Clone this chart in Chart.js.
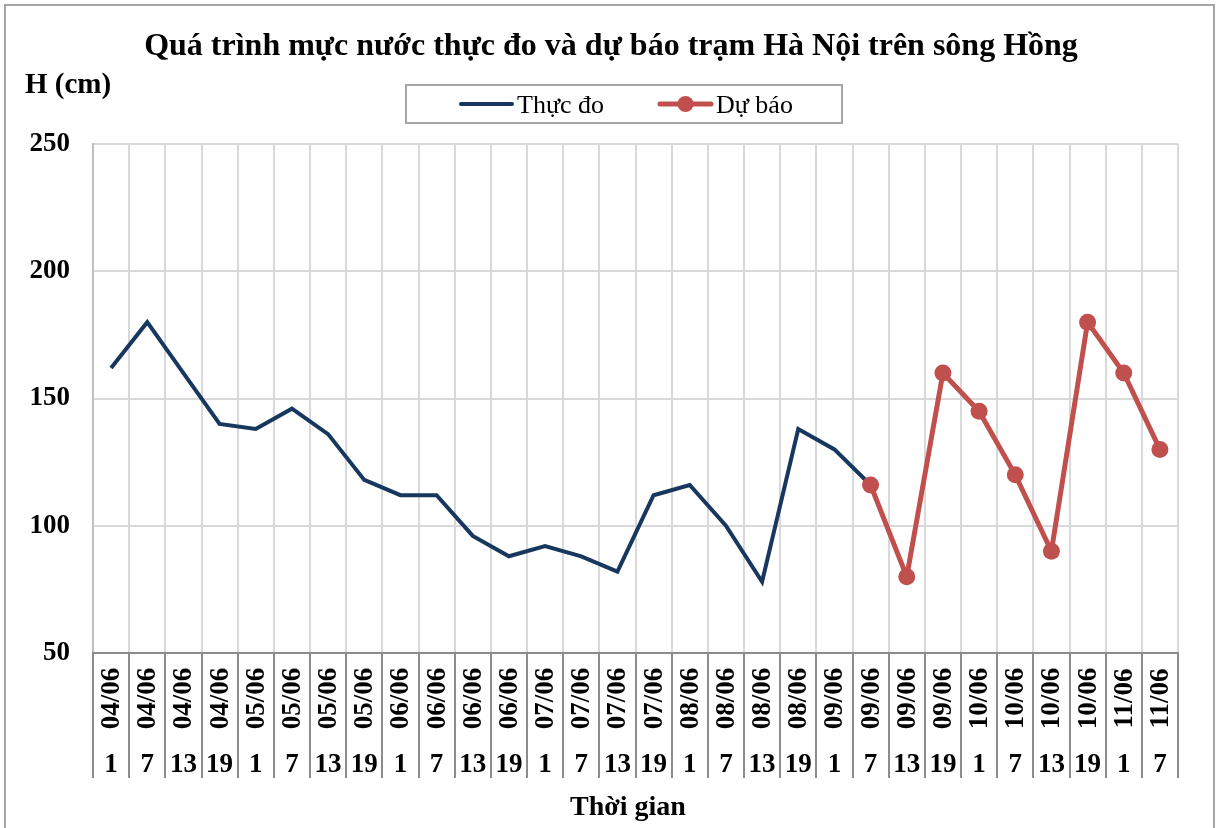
<!DOCTYPE html>
<html>
<head>
<meta charset="utf-8">
<script src="https://cdn.jsdelivr.net/npm/chart.js@4.4.1/dist/chart.umd.min.js"></script>
<style>
  html, body { margin: 0; padding: 0; background: #ffffff; }
  #wrap { width: 1220px; height: 828px; position: relative; }
</style>
</head>
<body>
<div id="wrap"><canvas id="c" width="1220" height="828"></canvas></div>
<script>
const dateLabels = ['04/06','04/06','04/06','04/06','05/06','05/06','05/06','05/06',
  '06/06','06/06','06/06','06/06','07/06','07/06','07/06','07/06',
  '08/06','08/06','08/06','08/06','09/06','09/06','09/06','09/06',
  '10/06','10/06','10/06','10/06','11/06','11/06'];
const hourLabels = ['1','7','13','19','1','7','13','19','1','7','13','19','1','7','13','19',
  '1','7','13','19','1','7','13','19','1','7','13','19','1','7'];
const observed = [162,180,160,140,138,146,136,118,112,112,96,88,92,88,82,112,116,100,78,138,130,116,
  null,null,null,null,null,null,null,null];
const forecast = [null,null,null,null,null,null,null,null,null,null,null,null,null,null,null,null,
  null,null,null,null,null,116,80,160,145,120,90,180,160,130];
const yTicks = [50,100,150,200,250];

const titleText = 'Quá trình mực nước thực đo và dự báo trạm Hà Nội trên sông Hồng';
const yTitle = 'H (cm)';
const xTitle = 'Thời gian';
const seriesNames = ['Thực đo','Dự báo'];
const colors = ['#17375E','#C0504D'];

const SERIF = '"Liberation Serif", "Times New Roman", serif';

const decor = {
  id: 'decor',
  beforeDraw(chart) {
    const ctx = chart.ctx;
    ctx.save();
    ctx.fillStyle = '#ffffff';
    ctx.fillRect(0, 0, chart.width, chart.height);
    ctx.restore();
  },
  afterDraw(chart) {
    const ctx = chart.ctx;
    const xs = chart.scales.x;
    const area = chart.chartArea;
    ctx.save();
    // outer border
    ctx.strokeStyle = '#a6a6a6';
    ctx.lineWidth = 2;
    ctx.strokeRect(5, 5, 1209, 840);

    // title
    ctx.fillStyle = '#000';
    ctx.textAlign = 'center';
    ctx.textBaseline = 'alphabetic';
    ctx.font = 'bold 32px ' + SERIF;
    ctx.fillText(titleText, 611, 55);

    // y title
    ctx.textAlign = 'left';
    ctx.font = 'bold 29px ' + SERIF;
    ctx.fillText(yTitle, 25, 93);

    // x title
    ctx.textAlign = 'center';
    ctx.font = 'bold 28px ' + SERIF;
    ctx.fillText(xTitle, 628, 815);

    // legend box
    ctx.strokeStyle = '#a6a6a6';
    ctx.lineWidth = 2;
    ctx.strokeRect(406, 85, 436, 38);
    ctx.lineCap = 'round';
    ctx.strokeStyle = colors[0];
    ctx.lineWidth = 4;
    ctx.beginPath(); ctx.moveTo(461, 104); ctx.lineTo(512, 104); ctx.stroke();
    ctx.strokeStyle = colors[1];
    ctx.lineWidth = 5;
    ctx.beginPath(); ctx.moveTo(660, 104); ctx.lineTo(711, 104); ctx.stroke();
    ctx.fillStyle = colors[1];
    ctx.beginPath(); ctx.arc(685.5, 104, 8, 0, Math.PI * 2); ctx.fill();
    ctx.fillStyle = '#000';
    ctx.textAlign = 'left';
    ctx.font = '26px ' + SERIF;
    ctx.fillText(seriesNames[0], 517, 113);
    ctx.fillText(seriesNames[1], 716, 113);

    // x-axis category separators below axis
    const n = dateLabels.length;
    ctx.strokeStyle = '#8c8c8c';
    ctx.lineWidth = 2;
    ctx.lineCap = 'butt';
    for (let i = 0; i <= n; i++) {
      let px;
      if (i === 0) px = area.left;
      else if (i === n) px = area.right;
      else px = (xs.getPixelForValue(i - 1) + xs.getPixelForValue(i)) / 2;
      px = Math.round(px);
      ctx.beginPath(); ctx.moveTo(px, area.bottom); ctx.lineTo(px, 778); ctx.stroke();
    }
    // axis line
    ctx.beginPath(); ctx.moveTo(area.left - 1, area.bottom); ctx.lineTo(area.right + 1, area.bottom); ctx.stroke();

    // labels
    ctx.fillStyle = '#000';
    ctx.font = 'bold 27px ' + SERIF;
    for (let i = 0; i < n; i++) {
      const px = xs.getPixelForValue(i);
      ctx.save();
      ctx.translate(px, 698.5);
      ctx.rotate(-Math.PI / 2);
      ctx.textAlign = 'center';
      ctx.textBaseline = 'middle';
      ctx.fillText(dateLabels[i], 0, 1);
      ctx.restore();
      ctx.textAlign = 'center';
      ctx.textBaseline = 'alphabetic';
      ctx.fillText(hourLabels[i], px, 772);
    }
    ctx.restore();
  }
};

new Chart(document.getElementById('c'), {
  type: 'line',
  data: {
    labels: dateLabels.map((d, i) => d + ' ' + hourLabels[i]),
    datasets: [
      {
        label: seriesNames[0],
        data: observed,
        borderColor: colors[0],
        backgroundColor: colors[0],
        borderWidth: 4,
        pointRadius: 0,
        pointHoverRadius: 0,
        tension: 0,
        spanGaps: false,
        order: 1
      },
      {
        label: seriesNames[1],
        data: forecast,
        borderColor: colors[1],
        backgroundColor: colors[1],
        borderWidth: 5,
        pointRadius: 8.5,
        pointBorderWidth: 0,
        pointBackgroundColor: colors[1],
        pointHoverRadius: 8.5,
        tension: 0,
        order: 0
      }
    ]
  },
  options: {
    responsive: false,
    animation: false,
    devicePixelRatio: 1,
    layout: { padding: { left: 0, right: 42, top: 144, bottom: 0 } },
    plugins: {
      legend: { display: false },
      title: { display: false },
      tooltip: { enabled: false }
    },
    scales: {
      x: {
        type: 'category',
        offset: true,
        grid: { display: true, offset: true, color: '#d9d9d9', lineWidth: 2, drawTicks: false },
        border: { display: false },
        ticks: { display: false },
        afterFit(scale) { scale.height = 175; }
      },
      y: {
        min: 50,
        max: 250,
        afterBuildTicks(scale) { scale.ticks = yTicks.map(v => ({ value: v })); },
        grid: { color: '#d9d9d9', lineWidth: 2, drawTicks: false },
        border: { display: true, color: '#bfbfbf', width: 2 },
        ticks: {
          font: { family: SERIF, size: 27, weight: 'bold' },
          color: '#000',
          padding: 23
        },
        afterFit(scale) { scale.width = 93; }
      }
    }
  },
  plugins: [decor]
});
</script>
</body>
</html>
